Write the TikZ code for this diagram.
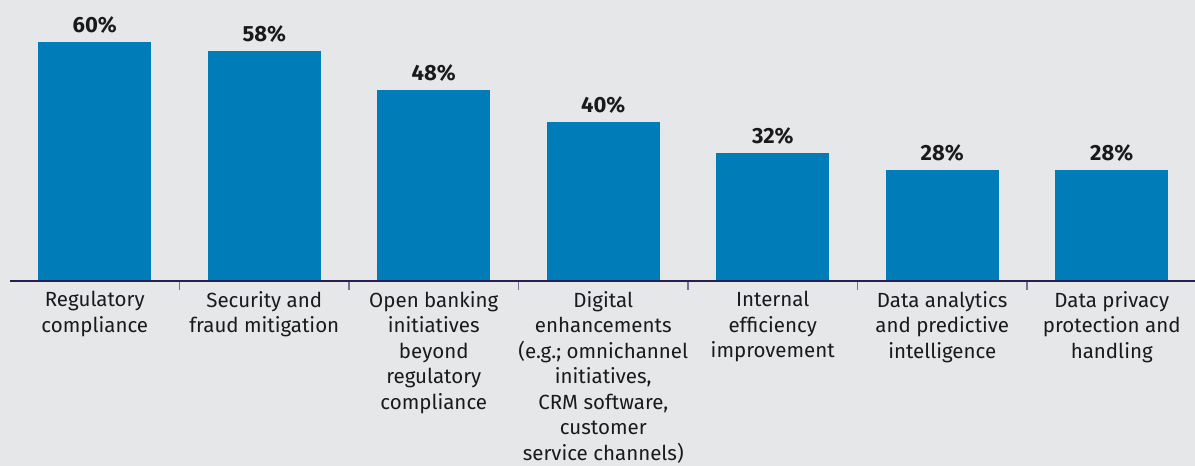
\documentclass[tikz,border=0pt]{standalone}
\usepackage{fontspec}
\setmainfont{Fira Sans}
\usepackage{tikz}
\usetikzlibrary{positioning}

\definecolor{bgGray}{HTML}{E6E7E9}
\definecolor{barBlue}{HTML}{007DB8}
\definecolor{axisDark}{HTML}{2A1E4E}
\definecolor{tickPurple}{HTML}{7E6C9C}
\definecolor{txtDark}{HTML}{1A1A1A}

\begin{document}
\begin{tikzpicture}[x=1pt, y=-1pt]

\tikzstyle{bar} = [fill=barBlue, draw=none, anchor=south, minimum width=113pt, inner sep=0pt, outer sep=0pt]
\tikzstyle{pct} = [anchor=base, text=txtDark, font=\fontsize{22}{24}\selectfont\bfseries, inner sep=0pt]
\tikzstyle{cat} = [anchor=north, text=txtDark, align=center, font=\fontsize{20.5}{25.5}\selectfont, inner sep=0pt, execute at begin node=\strut]
\tikzstyle{axis} = [draw=axisDark, line width=1.2pt]
\tikzstyle{tick} = [draw=tickPurple, line width=1.2pt]

% background and frame
\fill[bgGray] (0,0) rectangle (1195,466);
\useasboundingbox (0,0) rectangle (1195,466);

%------------------------------------------------------------
	\node[bar, minimum height=239pt] (b1) at (94.75,281) {};
	\node[bar, minimum height=230pt] (b2) at (264.25,281) {};
	\node[bar, minimum height=191pt] (b3) at (433.75,281) {};
	\node[bar, minimum height=159pt] (b4) at (603.25,281) {};
	\node[bar, minimum height=128pt] (b5) at (772.75,281) {};
	\node[bar, minimum height=111pt] (b6) at (942.25,281) {};
	\node[bar, minimum height=111pt] (b7) at (1111.75,281) {};

%------------------------------------------------------------
	\node[pct] (p1) at ([yshift=10pt]b1.north) {60\%};
	\node[pct] (p2) at ([yshift=10pt]b2.north) {58\%};
	\node[pct] (p3) at ([yshift=10pt]b3.north) {48\%};
	\node[pct] (p4) at ([yshift=10pt]b4.north) {40\%};
	\node[pct] (p5) at ([yshift=10pt]b5.north) {32\%};
	\node[pct] (p6) at ([yshift=10pt]b6.north) {28\%};
	\node[pct] (p7) at ([yshift=10pt]b7.north) {28\%};

%------------------------------------------------------------
	\coordinate (ax0) at (10,281);
	\coordinate (ax1) at (1195,281);
	\draw[axis] (ax0) -- (ax1);

	\coordinate (t1) at (179.5,281);
	\coordinate (t2) at (349,281);
	\coordinate (t3) at (518.5,281);
	\coordinate (t4) at (688,281);
	\coordinate (t5) at (857.5,281);
	\coordinate (t6) at (1027,281);
	\draw[tick] ([yshift=-0.6pt]t1) -- ++(0,8);
	\draw[tick] ([yshift=-0.6pt]t2) -- ++(0,8);
	\draw[tick] ([yshift=-0.6pt]t3) -- ++(0,8);
	\draw[tick] ([yshift=-0.6pt]t4) -- ++(0,8);
	\draw[tick] ([yshift=-0.6pt]t5) -- ++(0,8);
	\draw[tick] ([yshift=-0.6pt]t6) -- ++(0,8);

%------------------------------------------------------------
	% first baseline at 309, strut height 0.7*25.5
	\node[cat] (c1) at (94.75,291.15) {Regulatory\\compliance};
	\node[cat] (c2) at (264.25,291.15) {Security and\\fraud mitigation};
	\node[cat] (c3) at (433.75,291.15) {Open banking\\initiatives\\beyond\\regulatory\\compliance};
	\node[cat] (c4) at (603.25,291.15) {Digital\\enhancements\\(e.g.; omnichannel\\initiatives,\\CRM software,\\customer\\service channels)};
	\node[cat] (c5) at (772.75,291.15) {Internal\\efficiency\\improvement};
	\node[cat] (c6) at (942.25,291.15) {Data analytics\\and predictive\\intelligence};
	\node[cat] (c7) at (1111.75,291.15) {Data privacy\\protection and\\handling};

\end{tikzpicture}
\end{document}
